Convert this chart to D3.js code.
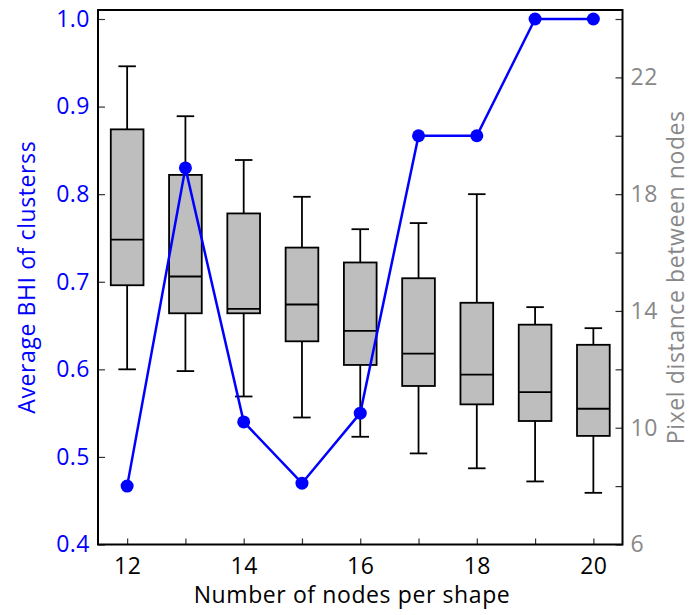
<!DOCTYPE html>
<html>
<head>
<meta charset="utf-8">
<script src="https://cdn.jsdelivr.net/npm/d3@7"></script>
<style>
  body { margin: 0; background: #fff; }
  text { font-family: "Open Sans", sans-serif; }
</style>
</head>
<body>
<div id="chart"></div>
<script>
// nodes per shape
var nodes = [12, 13, 14, 15, 16, 17, 18, 19, 20];
// box stats of BHI (left axis)
var whiskerLow  = [0.600, 0.598, 0.569, 0.545, 0.523, 0.504, 0.487, 0.472, 0.459];
var q1          = [0.696, 0.664, 0.664, 0.632, 0.605, 0.581, 0.560, 0.541, 0.524];
var median      = [0.748, 0.706, 0.669, 0.674, 0.644, 0.618, 0.594, 0.574, 0.555];
var q3          = [0.874, 0.822, 0.778, 0.739, 0.722, 0.704, 0.676, 0.651, 0.628];
var whiskerHigh = [0.946, 0.889, 0.839, 0.797, 0.760, 0.767, 0.800, 0.671, 0.647];
// pixel distance (right axis)
var pixelDist = [8.0, 18.9, 10.2, 8.1, 10.5, 20, 20, 24, 24];

var leftTicks = [0.4, 0.5, 0.6, 0.7, 0.8, 0.9, 1.0];
var rightTicks = [6, 8, 10, 12, 14, 16, 18, 20, 22, 24];

var width = 691, height = 615;
// plot area (don't call it "top", that's window.top)
var pl = 98, pr = 622.5, pt = 10, pb = 544.5;
var fontSize = "23px";

var svg = d3.select("#chart").append("svg")
    .attr("width", width)
    .attr("height", height);

var x = d3.scaleLinear().domain([11.5, 20.5]).range([pl, pr]);
var y = d3.scaleLinear().domain([0.4, 1.0]).range([pb, 19]);
var y2 = d3.scaleLinear().domain([6, 24]).range([pb, 19]);

var boxes = nodes.map(function(n, i) {
    return {n: n, lo: whiskerLow[i], q1: q1[i], med: median[i], q3: q3[i], hi: whiskerHigh[i]};
});

var boxW = 32.7, capW = 17.5, sw = 1.8;

var g = svg.append("g");
// whiskers
g.selectAll(".wh").data(boxes).enter().append("line")
    .attr("x1", function(d) { return x(d.n); })
    .attr("x2", function(d) { return x(d.n); })
    .attr("y1", function(d) { return y(d.hi); })
    .attr("y2", function(d) { return y(d.lo); })
    .attr("stroke", "#000").attr("stroke-width", sw);
["hi", "lo"].forEach(function(k) {
    g.selectAll(".cap" + k).data(boxes).enter().append("line")
        .attr("x1", function(d) { return x(d.n) - capW / 2; })
        .attr("x2", function(d) { return x(d.n) + capW / 2; })
        .attr("y1", function(d) { return y(d[k]); })
        .attr("y2", function(d) { return y(d[k]); })
        .attr("stroke", "#000").attr("stroke-width", sw);
});
// boxes
g.selectAll(".box").data(boxes).enter().append("rect")
    .attr("x", function(d) { return x(d.n) - boxW / 2; })
    .attr("width", boxW)
    .attr("y", function(d) { return y(d.q3); })
    .attr("height", function(d) { return y(d.q1) - y(d.q3); })
    .attr("fill", "#bebebe")
    .attr("stroke", "#000").attr("stroke-width", sw);
g.selectAll(".med").data(boxes).enter().append("line")
    .attr("x1", function(d) { return x(d.n) - boxW / 2; })
    .attr("x2", function(d) { return x(d.n) + boxW / 2; })
    .attr("y1", function(d) { return y(d.med); })
    .attr("y2", function(d) { return y(d.med); })
    .attr("stroke", "#000").attr("stroke-width", sw);

// blue line
var line = d3.line()
    .x(function(d, i) { return x(nodes[i]); })
    .y(function(d) { return y2(d); });
svg.append("path").datum(pixelDist)
    .attr("d", line)
    .attr("fill", "none")
    .attr("stroke", "#0000ff")
    .attr("stroke-width", 2.5);
svg.selectAll(".dot").data(pixelDist).enter().append("circle")
    .attr("cx", function(d, i) { return x(nodes[i]); })
    .attr("cy", function(d) { return y2(d); })
    .attr("r", 6.5)
    .attr("fill", "#0000ff");

// axes, ticks point inward
var yAxis = d3.axisLeft(y).tickValues(leftTicks).tickSize(-7).tickPadding(8)
    .tickFormat(d3.format(".1f"));
var ga = svg.append("g").attr("transform", "translate(" + pl + ",0)").call(yAxis);
ga.select(".domain").remove();
ga.selectAll("line").attr("stroke", "#333").attr("stroke-width", 1.2);
ga.selectAll("text").attr("fill", "#0000ff").style("font-size", fontSize).style("letter-spacing", "0.5px");

var y2Axis = d3.axisRight(y2).tickValues(rightTicks).tickSize(-7).tickPadding(8)
    .tickFormat(function(d) { return (d - 6) % 4 === 0 ? d : ""; });
var gb = svg.append("g").attr("transform", "translate(" + pr + ",0)").call(y2Axis);
gb.select(".domain").remove();
gb.selectAll("line").attr("stroke", "#333").attr("stroke-width", 1.2);
gb.selectAll("text").attr("fill", "#888").style("font-size", fontSize).style("letter-spacing", "0.5px");

var xAxis = d3.axisBottom(x).tickValues(nodes).tickSize(-6).tickPadding(13)
    .tickFormat(function(d) { return d % 2 === 0 ? d : ""; });
var gc = svg.append("g").attr("transform", "translate(0," + pb + ")").call(xAxis);
gc.select(".domain").remove();
gc.selectAll("line").attr("stroke", "#333").attr("stroke-width", 1.2);
gc.selectAll("text").attr("fill", "#000").style("font-size", fontSize).style("letter-spacing", "0.5px");

// frame
svg.append("rect")
    .attr("x", pl).attr("y", pt)
    .attr("width", pr - pl).attr("height", pb - pt)
    .attr("fill", "none").attr("stroke", "#000").attr("stroke-width", 2);

// titles
svg.append("text")
    .attr("transform", "translate(27," + (pt + pb) / 2 + ") rotate(-90)")
    .attr("text-anchor", "middle")
    .attr("dy", "0.35em")
    .attr("fill", "#0000ff")
    .style("font-size", fontSize)
    .style("letter-spacing", "0.6px")
    .text("Average BHI of clusterss");
svg.append("text")
    .attr("transform", "translate(676," + (pt + pb) / 2 + ") rotate(-90)")
    .attr("text-anchor", "middle")
    .attr("dy", "0.35em")
    .attr("fill", "#888")
    .style("font-size", fontSize)
    .style("letter-spacing", "0.6px")
    .text("Pixel distance between nodes");
svg.append("text")
    .attr("x", 352)
    .attr("y", 603)
    .attr("text-anchor", "middle")
    .attr("fill", "#000")
    .style("font-size", fontSize)
    .style("letter-spacing", "0.6px")
    .text("Number of nodes per shape");
</script>
</body>
</html>
